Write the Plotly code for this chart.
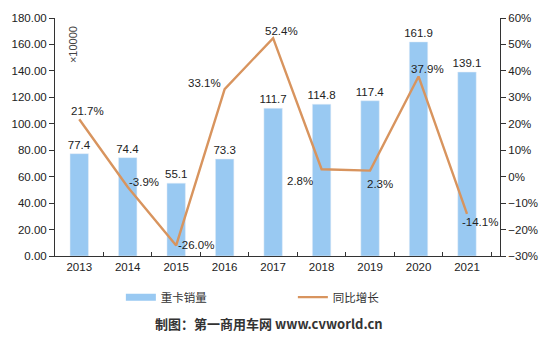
import plotly.graph_objects as go

years = ["2013", "2014", "2015", "2016", "2017", "2018", "2019", "2020", "2021"]
sales = [77.4, 74.4, 55.1, 73.3, 111.7, 114.8, 117.4, 161.9, 139.1]
growth = [21.7, -3.9, -26.0, 33.1, 52.4, 2.8, 2.3, 37.9, -14.1]
growth_labels = ["21.7%", "-3.9%", "-26.0%", "33.1%", "52.4%", "2.8%", "2.3%", "37.9%", "-14.1%"]
label_shift = [(8, 8), (16, 5), (20, 0), (-20, 6), (8, 7), (-22, -12), (10, -13), (9, 7), (13, -8)]

BAR = "#99C9F2"
LINE = "#D8945E"
FONT = "Liberation Sans, Arial, sans-serif"
CJK = "Noto Sans CJK SC, " + FONT

fig = go.Figure()
fig.add_trace(go.Bar(
    x=years, y=sales, name="重卡销量", marker_color=BAR, width=0.38,
    text=[f"{v:.1f}" for v in sales], textposition="outside", constraintext="none",
    textfont=dict(size=11.5, color="#222"), cliponaxis=False, showlegend=False,
))
# legend swatch for the bars (wide rectangle as in the reference)
fig.add_trace(go.Scatter(
    x=[None], y=[None], name="重卡销量", mode="lines",
    line=dict(color=BAR, width=7),
))
fig.add_trace(go.Scatter(
    x=years, y=growth, name="同比增长", mode="lines",
    line=dict(color=LINE, width=2.4), yaxis="y2",
))
for i, (g, lab, (dx, dy)) in enumerate(zip(growth, growth_labels, label_shift)):
    fig.add_annotation(x=i, y=g, xref="x", yref="y2", text=lab, showarrow=False,
                       xshift=dx, yshift=dy, font=dict(size=11.5, color="#222"))

fig.add_annotation(x=0.042, y=0.889, xref="paper", yref="paper", text="×10000",
                   xanchor="center", yanchor="middle",
                   showarrow=False, textangle=-90, font=dict(size=11, color="#444"))

fig.add_annotation(x=0.48, y=-0.284, xref="paper", yref="paper", xanchor="center",
                   yanchor="middle",
                   text="<b>制图：第一商用车网 www.cvworld.cn</b>", showarrow=False,
                   font=dict(size=13, color="#333", family=CJK))

fig.update_layout(
    width=550, height=344,
    margin=dict(l=48, r=45, t=13, b=88),
    paper_bgcolor="white", plot_bgcolor="white",
    font=dict(family=FONT, size=11.5, color="#222"),
    showlegend=True,
    legend=dict(orientation="h", x=0.148, xanchor="left", y=-0.173, yanchor="middle",
                entrywidth=127, entrywidthmode="pixels", traceorder="normal",
                font=dict(size=11.5, color="#333", family=CJK)),
    xaxis=dict(type="category", showline=True, linecolor="#333", linewidth=1,
               ticks="inside", tickson="boundaries", ticklen=4, tickcolor="#333",
               tickfont=dict(size=11.5)),
    yaxis=dict(range=[0, 180], dtick=20, tickformat=".2f", showgrid=False,
               showline=True, linecolor="#333", ticks="outside", ticklen=5,
               tickcolor="#333", zeroline=False, tickfont=dict(size=11.5)),
    yaxis2=dict(range=[-30, 60], dtick=10, ticksuffix="%", overlaying="y", side="right",
                showgrid=False, showline=True, linecolor="#333", ticks="outside",
                ticklen=5, tickcolor="#333", zeroline=False, tickfont=dict(size=11.5)),
)

fig.write_html("out.html")
